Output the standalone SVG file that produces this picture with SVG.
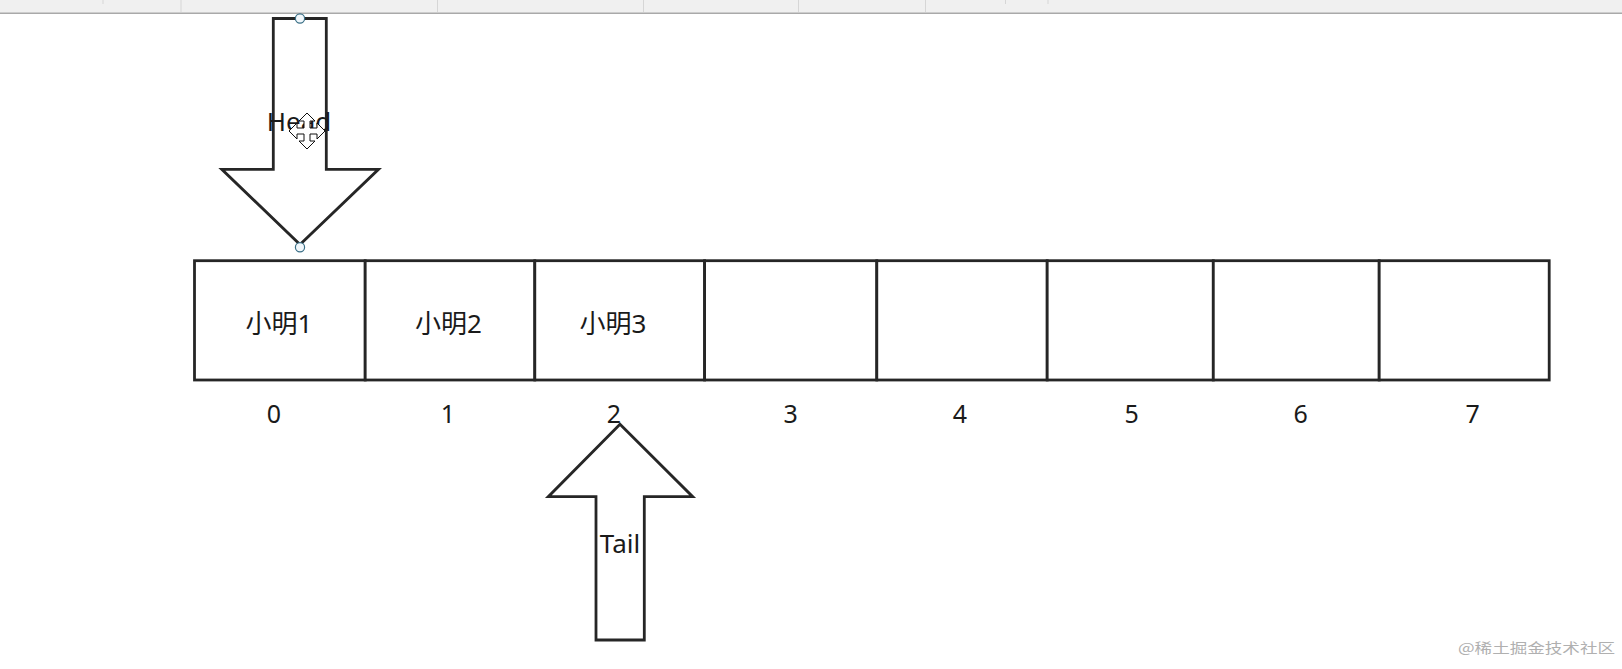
<svg xmlns="http://www.w3.org/2000/svg" width="1622" height="669" viewBox="0 0 1622 669">
<style>
.ln{fill:#fff;stroke:#262626;stroke-width:2.8;stroke-linejoin:miter}
.cell{fill:#fff;stroke:#262626;stroke-width:2.8}
.t{font-family:"Noto Sans","Noto Sans CJK SC",sans-serif;font-size:25px;fill:#1a1a1a;text-anchor:middle}
.c{font-family:"Noto Sans","Noto Sans CJK SC",sans-serif;font-size:26px;fill:#1a1a1a;text-anchor:middle}
.lbl{font-family:"Noto Sans","Noto Sans CJK SC",sans-serif;font-size:26px;fill:#1a1a1a;text-anchor:middle}
.wm{font-family:"Noto Sans CJK SC","Noto Sans",sans-serif;font-size:14px;fill:#b0b0b0}
.h{fill:#f2f8fc;stroke:#3a6f86;stroke-width:1.2}
.sep{stroke:#d6d6d6;stroke-width:1}
</style>
<rect width="1622" height="669" fill="#fff"/>
<g id="toolbar">
<rect x="0" y="0" width="1622" height="13" fill="#f0f0f0"/>
<line x1="0" y1="13.3" x2="1622" y2="13.3" stroke="#a9a9a9" stroke-width="1.6"/>
<line class="sep" x1="103" y1="0" x2="103" y2="4"/>
<line class="sep" x1="181" y1="0" x2="181" y2="12"/>
<line class="sep" x1="437.5" y1="0" x2="437.5" y2="12"/>
<line class="sep" x1="643.5" y1="0" x2="643.5" y2="12"/>
<line class="sep" x1="798.5" y1="0" x2="798.5" y2="12"/>
<line class="sep" x1="925.5" y1="0" x2="925.5" y2="12"/>
<line class="sep" x1="1005.5" y1="0" x2="1005.5" y2="4"/>
<line class="sep" x1="1048" y1="0" x2="1048" y2="4"/>
</g>
<g id="array">
<g id="cell-0"><rect class="cell" x="194.5" y="260.7" width="170.7" height="119.3"/><text class="c" x="279" y="333">小明1</text></g>
<g id="cell-1"><rect class="cell" x="365.2" y="260.7" width="169.6" height="119.3"/><text class="c" x="448.5" y="333">小明2</text></g>
<g id="cell-2"><rect class="cell" x="534.8" y="260.7" width="169.8" height="119.3"/><text class="c" x="613" y="333">小明3</text></g>
<g id="cell-3"><rect class="cell" x="704.6" y="260.7" width="172.2" height="119.3"/></g>
<g id="cell-4"><rect class="cell" x="876.8" y="260.7" width="170.4" height="119.3"/></g>
<g id="cell-5"><rect class="cell" x="1047.2" y="260.7" width="166.1" height="119.3"/></g>
<g id="cell-6"><rect class="cell" x="1213.3" y="260.7" width="165.9" height="119.3"/></g>
<g id="cell-7"><rect class="cell" x="1379.2" y="260.7" width="170" height="119.3"/></g>
</g>
<g id="indices">
<text class="t" x="274" y="423">0</text>
<text class="t" x="448" y="423">1</text>
<text class="t" x="614" y="423">2</text>
<text class="t" x="790.7" y="423">3</text>
<text class="t" x="960" y="423">4</text>
<text class="t" x="1131.7" y="423">5</text>
<text class="t" x="1300.7" y="423">6</text>
<text class="t" x="1472.7" y="423">7</text>
</g>
<g id="head-pointer">
<polygon class="ln" points="273.3,18.5 326.3,18.5 326.3,169.3 378.5,169.3 300,244.5 221.8,169.3 273.3,169.3"/>
<text class="lbl" x="299" y="131">Head</text>
<circle class="h" cx="300" cy="18.5" r="4.6"/>
<circle class="h" cx="300" cy="247.3" r="4.6"/>
<path transform="translate(307,131)" fill="#fff" stroke="#111" stroke-width="1" d="M0,-18 L8,-10 L3,-10 L3,-3 L10,-3 L10,-8 L18,0 L10,8 L10,3 L3,3 L3,10 L8,10 L0,18 L-8,10 L-3,10 L-3,3 L-10,3 L-10,8 L-18,0 L-10,-8 L-10,-3 L-3,-3 L-3,-10 L-8,-10 Z"/>
</g>
<g id="tail-pointer">
<polygon class="ln" points="620,424.3 692.7,496.7 644.3,496.7 644.3,640 596,640 596,496.7 548.3,496.7"/>
<text class="lbl" x="620" y="552.7">Tail</text>
</g>
<g id="watermark">
<text class="wm" x="1458" y="653" textLength="157" lengthAdjust="spacingAndGlyphs">@稀土掘金技术社区</text>
</g>
</svg>
